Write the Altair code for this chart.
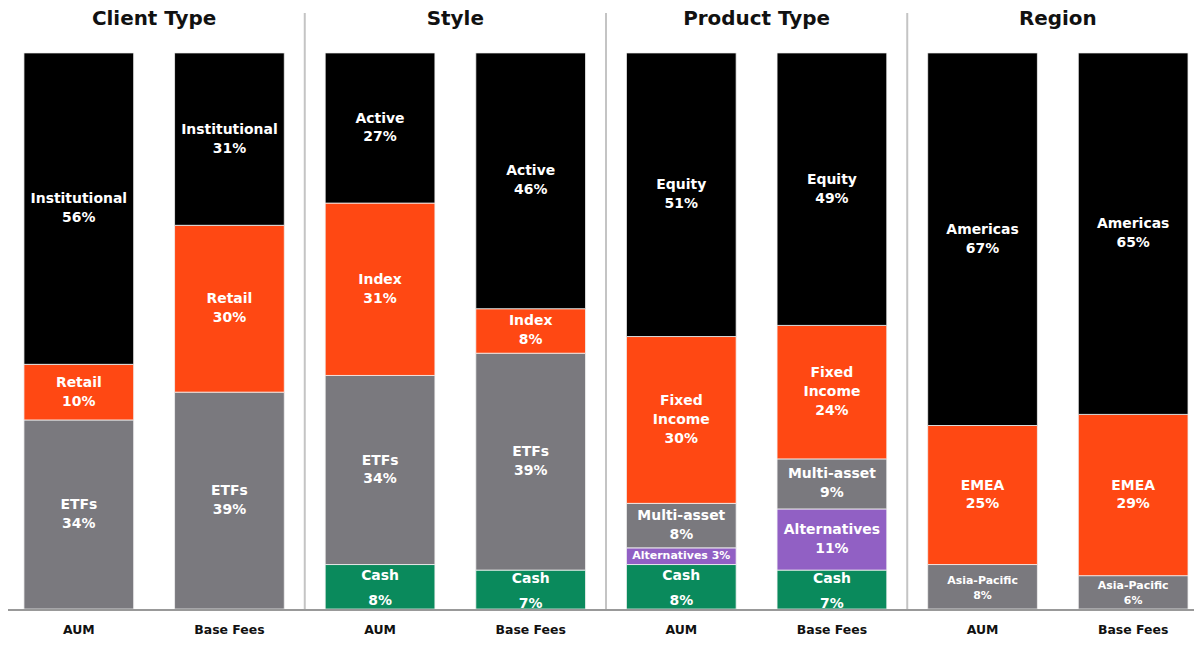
import altair as alt
import pandas as pd

groups = ["Client Type", "Style", "Product Type", "Region"]
bars = ["AUM", "Base Fees"]

# segments listed bottom -> top
segments = {
    "Client Type": ["ETFs", "Retail", "Institutional"],
    "Style": ["Cash", "ETFs", "Index", "Active"],
    "Product Type": ["Cash", "Alternatives", "Multi-asset", "Fixed Income", "Equity"],
    "Region": ["Asia-Pacific", "EMEA", "Americas"],
}
aum_values = {
    "Client Type": [34, 10, 56],
    "Style": [8, 34, 31, 27],
    "Product Type": [8, 3, 8, 30, 51],
    "Region": [8, 25, 67],
}
fee_values = {
    "Client Type": [39, 30, 31],
    "Style": [7, 39, 8, 46],
    "Product Type": [7, 11, 9, 24, 49],
    "Region": [6, 29, 65],
}
label_names = {
    "Fixed Income": "Fixed\nIncome",
}

seg_domain = ["Institutional", "Retail", "ETFs", "Active", "Index", "Cash",
              "Equity", "Fixed Income", "Multi-asset", "Alternatives",
              "Americas", "EMEA", "Asia-Pacific"]
seg_colors = ["#000000", "#FF4813", "#7A797E", "#000000", "#FF4813", "#0A8A5C",
              "#000000", "#FF4813", "#7A797E", "#9160C4",
              "#000000", "#FF4813", "#7A797E"]

rows = []
keys = []
for g in groups:
    for b, vals in zip(bars, [aum_values[g], fee_values[g]]):
        key = g + "|" + b
        keys.append(key)
        for i, (s, v) in enumerate(zip(segments[g], vals)):
            name = label_names.get(s, s)
            lab = f"{name} {v}%" if v < 5 else f"{name}\n{v}%"
            nlines = lab.count("\n") + 1
            if s == "Asia-Pacific" or v < 5:
                kind = f"s{nlines}"
            elif s == "Cash":
                kind = "cash"
            else:
                kind = f"n{nlines}"
            rows.append(dict(group=g, bar=b, key=key, segment=s, value=v,
                             ord=i, label=lab, kind=kind))
df = pd.DataFrame(rows)

titles = pd.DataFrame({"group": groups, "key": [g + "|AUM" for g in groups]})
seps = pd.DataFrame({"key": [g + "|AUM" for g in groups[1:]]})

FONT = "DejaVu Sans"
xscale = alt.Scale(domain=keys, range=[16, 1184], paddingInner=41 / 151, paddingOuter=0)

base = alt.Chart(df).transform_stack(
    stack="value", as_=["y0", "y1"], groupby=["key"], sort=[alt.SortField("ord")]
).transform_calculate(mid="(datum.y0 + datum.y1) / 2")

xenc = alt.X("key:N", scale=xscale, sort=keys, title=None,
             axis=alt.Axis(labelExpr="split(datum.label, '|')[1]", labelAngle=0,
                           domain=False, ticks=False, labelPadding=15,
                           labelFontSize=12.5, labelFontWeight="bold", labelFont=FONT,
                           labelColor="#111111"))
yscale = alt.Scale(domain=[0, 100])

barsl = base.mark_bar(stroke="#f2f2f2", strokeWidth=0.8).encode(
    x=xenc,
    y=alt.Y("y0:Q", scale=yscale, axis=None),
    y2="y1:Q",
    color=alt.Color("segment:N", scale=alt.Scale(domain=seg_domain, range=seg_colors), legend=None),
)

def text_layer(kind, size, lh, dy):
    return base.transform_filter(f"datum.kind == '{kind}'").mark_text(
        color="white", font=FONT, fontWeight="bold", fontSize=size,
        lineBreak="\n", lineHeight=lh, baseline="middle", align="center", dy=dy
    ).encode(x=alt.X("key:N", scale=xscale, sort=keys),
             y=alt.Y("mid:Q", scale=yscale), text="label:N")

text_layers = [
    text_layer("n2", 14, 19, -9.5),
    text_layer("n3", 14, 19, -19),
    text_layer("cash", 14, 25, -11),
    text_layer("s1", 11, 14, 0),
    text_layer("s2", 11, 15, -6),
]

title_layer = alt.Chart(titles).mark_text(
    font=FONT, fontWeight="bold", fontSize=20, color="#111111", baseline="middle", dx=20.5
).encode(x=alt.X("key:N", scale=xscale, sort=keys, bandPosition=1),
         y=alt.value(-34), text="group:N")

sep_layer = alt.Chart(seps).mark_rule(color="#c4c4c4", strokeWidth=2).encode(
    x=alt.X("key:N", scale=xscale, sort=keys, bandPosition=0),
    xOffset=alt.value(-20.5),
    y=alt.value(-40), y2=alt.value(558))

baseline = alt.Chart(titles).mark_rule(color="#999999", strokeWidth=2).encode(
    x=alt.value(-8), x2=alt.value(1194), y=alt.value(559))

chart = alt.layer(barsl, *text_layers, title_layer, sep_layer, baseline).properties(
    width=1190, height=558, autosize="none",
    padding={"top": 44, "left": 0, "right": 0, "bottom": 28},
    background="white",
).configure_view(stroke=None)

chart.save("out.html", embed_options={"renderer": "svg", "actions": False})
